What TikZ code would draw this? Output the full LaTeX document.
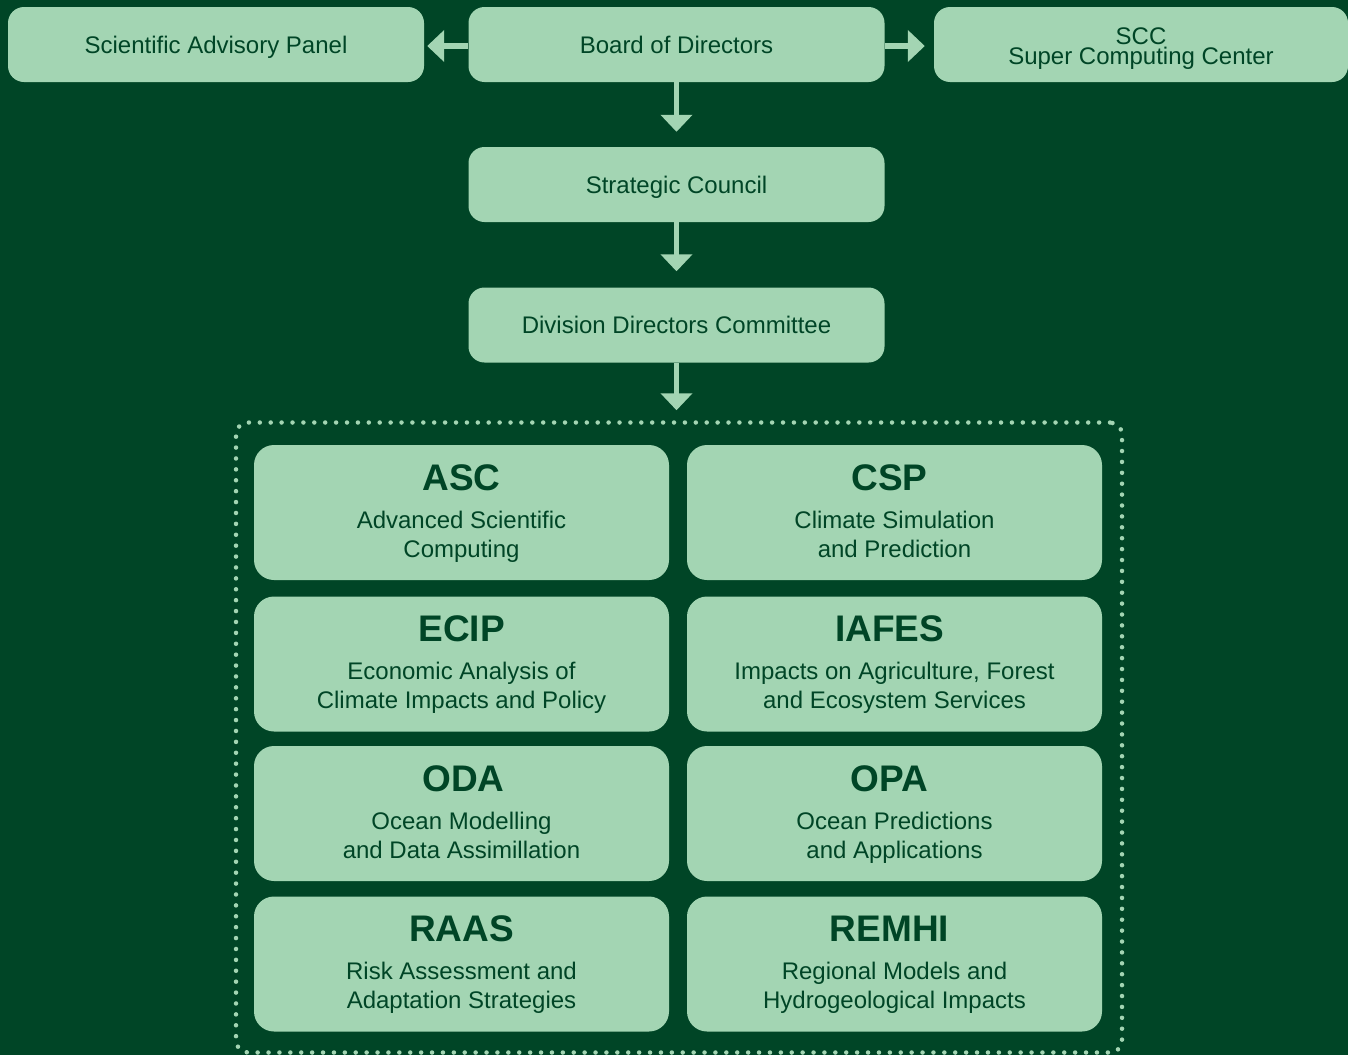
\documentclass[tikz,border=0pt]{standalone}
\usepackage{fontspec}
\setmainfont{Liberation Sans}
\usetikzlibrary{arrows.meta,calc}
\definecolor{bgc}{RGB}{0,69,38}
\definecolor{boxc}{RGB}{163,213,179}
\definecolor{txtc}{RGB}{0,69,38}
\newcommand{\divunit}[6]{%
  \node[gbox] (#1) at (#2) {};
  \node[ttl] (#1-t) at ($(#1.center)+(#6,-22.5)$) {#3};
  \node[dsc] (#1-a) at ($(#1.center)+(0,15.5)$) {#4};
  \node[dsc] (#1-b) at ($(#1.center)+(0,44.5)$) {#5};
}
\begin{document}
\begin{tikzpicture}[x=1pt,y=-1pt,
 topbox/.style={rectangle, rounded corners=16pt, fill=boxc, minimum width=416pt, minimum height=75pt, inner sep=0pt, text=txtc, font=\fontsize{24}{28}\selectfont, text height=17pt, text depth=0pt},
 gbox/.style={rectangle, rounded corners=20pt, fill=boxc, minimum width=415pt, minimum height=135pt, inner sep=0pt},
 ttl/.style={text=txtc, font=\bfseries\fontsize{37}{40}\selectfont, inner sep=0pt, anchor=base},
 dsc/.style={text=txtc, font=\fontsize{24}{28}\selectfont, inner sep=0pt, anchor=base},
 conn/.style={draw=boxc, line width=5.3pt, -{Triangle[width=31pt,length=17pt]}},
 grp/.style={draw=boxc, line width=4.5pt, line cap=round, dash pattern=on 0pt off 10.9pt, rounded corners=12pt, minimum width=886pt, minimum height=630pt, inner sep=0pt}
]
\fill[bgc] (0,0) rectangle (1348,1055);
\useasboundingbox (0,0) rectangle (1348,1055);

\node[topbox] (sap) at (216,44.5) {Scientific Advisory Panel};
\node[topbox] (bod) at (676.5,44.5) {Board of Directors};
\node[topbox, minimum width=414pt] (scc) at (1141,44.5) {};
\node[dsc] (scc-a) at ($(scc.center)+(0,-0.5)$) {SCC};
\node[dsc] (scc-b) at ($(scc.center)+(0,19.5)$) {Super Computing Center};
\node[topbox] (sc) at (676.5,184.5) {Strategic Council};
\node[topbox] (ddc) at (676.5,325) {Division Directors Committee};

\node[grp] (grp) at (679,737.5) {};

\divunit{asc}{461.5,512.5}{ASC}{Advanced Scientific}{Computing}{0}
\divunit{csp}{894.5,512.5}{CSP}{Climate Simulation}{and Prediction}{-5}
\divunit{ecip}{461.5,664}{ECIP}{Economic Analysis of}{Climate Impacts and Policy}{0}
\divunit{iafes}{894.5,664}{IAFES}{Impacts on Agriculture, Forest}{and Ecosystem Services}{-5}
\divunit{oda}{461.5,813.5}{ODA}{Ocean Modelling}{and Data Assimillation}{2}
\divunit{opa}{894.5,813.5}{OPA}{Ocean Predictions}{and Applications}{-5}
\divunit{raas}{461.5,964}{RAAS}{Risk Assessment and}{Adaptation Strategies}{0}
\divunit{remhi}{894.5,964}{REMHI}{Regional Models and}{Hydrogeological Impacts}{-5}

\draw[conn, shorten >=3pt] ($(bod.west)+(0,1.5)$) -- ($(sap.east)+(0,1.5)$);
\draw[conn, shorten >=9pt] ($(bod.east)+(0,1.5)$) -- ($(scc.west)+(0,1.5)$);
\draw[conn, shorten >=15pt] (bod.south) -- (sc.north);
\draw[conn, shorten >=16pt] (sc.south) -- (ddc.north);
\draw[conn, shorten >=10pt] (ddc.south) -- (ddc.south |- grp.north);
\end{tikzpicture}
\end{document}
